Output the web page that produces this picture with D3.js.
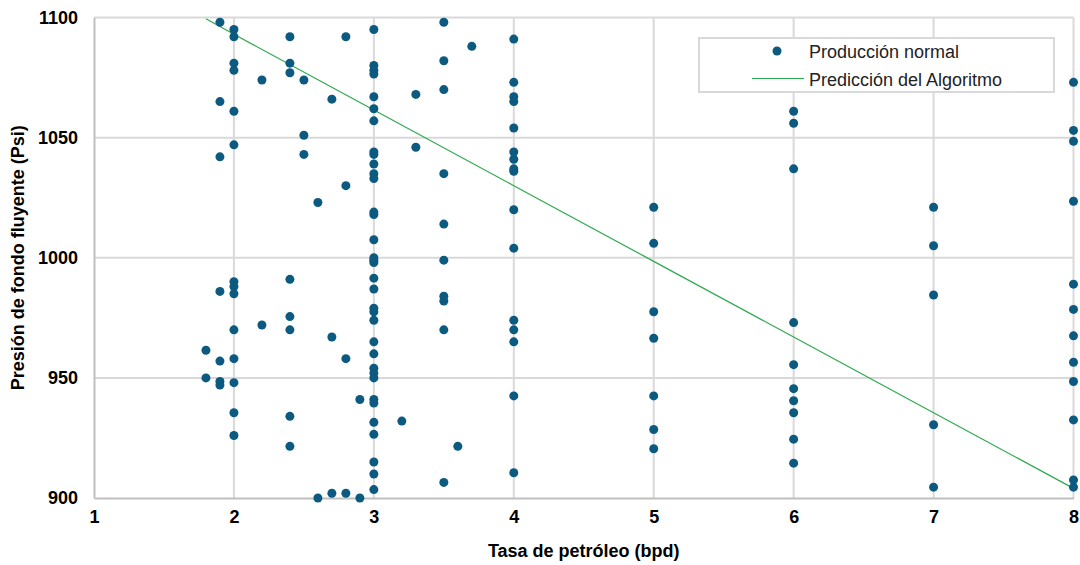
<!DOCTYPE html>
<html>
<head>
<meta charset="utf-8">
<script src="https://cdn.jsdelivr.net/npm/d3@7"></script>
<style>
  html, body { margin: 0; padding: 0; background: #ffffff; }
  svg { display: block; }
  text { font-family: "Liberation Sans", Arial, sans-serif; }
</style>
</head>
<body>
<svg id="chart" width="1080" height="565"></svg>
<script>
// Oil rate (bpd) for each well test
const rateBpd = [
  1.8, 1.8,
  1.9, 1.9, 1.9, 1.9, 1.9, 1.9, 1.9,
  2, 2, 2, 2, 2, 2, 2, 2, 2, 2, 2, 2, 2, 2,
  2.2, 2.2,
  2.4, 2.4, 2.4, 2.4, 2.4, 2.4, 2.4, 2.4,
  2.5, 2.5, 2.5,
  2.6, 2.6,
  2.7, 2.7, 2.7,
  2.8, 2.8, 2.8, 2.8,
  2.9, 2.9,
  3, 3, 3, 3, 3, 3, 3, 3, 3, 3, 3, 3, 3, 3, 3, 3, 3, 3, 3, 3, 3, 3,
  3, 3, 3, 3, 3, 3, 3, 3, 3, 3, 3, 3, 3,
  3.2,
  3.3, 3.3,
  3.5, 3.5, 3.5, 3.5, 3.5, 3.5, 3.5, 3.5, 3.5, 3.5,
  3.6,
  3.7,
  4, 4, 4, 4, 4, 4, 4, 4, 4, 4, 4, 4, 4, 4, 4, 4,
  5, 5, 5, 5, 5, 5, 5,
  6, 6, 6, 6, 6, 6, 6, 6, 6, 6,
  7, 7, 7, 7, 7,
  8, 8, 8, 8, 8, 8, 8, 8, 8, 8, 8, 8
];

// Flowing bottom-hole pressure (psi) for the same tests
const pressurePsi = [
  961.5, 950,
  1098, 1065, 1042, 986, 957, 948.5, 947,
  1095, 1092, 1081, 1078, 1061, 1047, 990, 988, 985, 970, 958, 948, 935.5, 926,
  1074, 972,
  1092, 1081, 1077, 991, 975.5, 970, 934, 921.5,
  1074, 1051, 1043,
  1023, 900,
  1066, 967, 902,
  1092, 1030, 958, 902,
  941, 900,
  1095, 1080, 1078, 1076.5, 1067, 1062, 1057, 1044, 1043, 1039, 1035, 1033, 1019, 1018, 1007.5, 1000, 999, 998, 991.5, 987, 979, 977.5,
  974, 965, 960, 954, 952, 950, 941, 939.5, 931.5, 926.5, 915, 910, 903.5,
  932,
  1068, 1046,
  1098, 1082, 1070, 1035, 1014, 999, 984, 982, 970, 906.5,
  921.5,
  1088,
  1091, 1073, 1067, 1065, 1054, 1044, 1041, 1037, 1036, 1020, 1004, 974, 970, 965, 942.5, 910.5,
  1021, 1006, 977.5, 966.5, 942.5, 928.5, 920.5,
  1061, 1056, 1037, 973, 955.5, 945.5, 940.5, 935.5, 924.5, 914.5,
  1021, 1005, 984.5, 930.5, 904.5,
  1073, 1053, 1048.5, 1023.5, 989, 978.5, 967.5, 956.5, 948.5, 932.5, 907.5, 904.5
];

// Algorithm prediction line
const predRate = [1.8, 2, 3, 4, 5, 6, 7, 8];
const predPsi = [1099.5, 1093, 1061.5, 1030, 998.5, 967, 935.5, 904];

// Axis ticks
const xTicks = [1, 2, 3, 4, 5, 6, 7, 8];
const yTicks = [900, 950, 1000, 1050, 1100];

const seriesNames = ["Producción normal", "Predicción del Algoritmo"];
const xTitle = "Tasa de petróleo (bpd)";
const yTitle = "Presión de fondo fluyente (Psi)";

const dotColor = "#0d5a80";
const lineColor = "#2daa4f";
const gridColor = "#d9d9d9";
const axisColor = "#bfbfbf";

const svg = d3.select("#chart");
const plot = { left: 94, right: 1073.5, top: 17.5, bottom: 498 };

const x = d3.scaleLinear().domain([1, 8]).range([plot.left, plot.right]);
const y = d3.scaleLinear().domain([900, 1100]).range([plot.bottom, plot.top]);

// Gridlines
const grid = svg.append("g");
grid.selectAll("line.vx")
  .data(xTicks.slice(1))
  .join("line")
  .attr("x1", d => x(d)).attr("x2", d => x(d))
  .attr("y1", plot.top).attr("y2", plot.bottom)
  .attr("stroke", gridColor).attr("stroke-width", 2);
grid.selectAll("line.hy")
  .data(yTicks.slice(1))
  .join("line")
  .attr("x1", plot.left).attr("x2", plot.right)
  .attr("y1", d => y(d)).attr("y2", d => y(d))
  .attr("stroke", gridColor).attr("stroke-width", 2);

// Axes (no tick marks, only labels)
const xAxis = d3.axisBottom(x).tickValues(xTicks).tickSize(0).tickPadding(12).tickFormat(d3.format("d"));
const yAxis = d3.axisLeft(y).tickValues(yTicks).tickSize(0).tickPadding(16).tickFormat(d3.format("d"));

const gx = svg.append("g").attr("transform", `translate(0,${plot.bottom})`).call(xAxis);
const gy = svg.append("g").attr("transform", `translate(${plot.left},0)`).call(yAxis);
[gx, gy].forEach(g => {
  g.select(".domain").attr("stroke", axisColor).attr("stroke-width", 2);
  g.selectAll("text")
    .attr("fill", "#000")
    .style("font-family", "'Liberation Sans', Arial, sans-serif")
    .style("font-size", "18px")
    .style("font-weight", "bold");
});

// Prediction line
svg.append("path")
  .datum(predRate.map((r, i) => [r, predPsi[i]]))
  .attr("fill", "none")
  .attr("stroke", lineColor)
  .attr("stroke-width", 1.2)
  .attr("d", d3.line().x(d => x(d[0])).y(d => y(d[1])));

// Well test points
svg.append("g")
  .selectAll("circle")
  .data(rateBpd.map((r, i) => [r, pressurePsi[i]]))
  .join("circle")
  .attr("cx", d => x(d[0]))
  .attr("cy", d => y(d[1]))
  .attr("r", 4.5)
  .attr("fill", dotColor);

// Axis titles
svg.append("text")
  .attr("x", (plot.left + plot.right) / 2)
  .attr("y", 557)
  .attr("text-anchor", "middle")
  .style("font-size", "18px")
  .style("font-weight", "bold")
  .text(xTitle);

svg.append("text")
  .attr("transform", `translate(24,${(plot.top + plot.bottom) / 2}) rotate(-90)`)
  .attr("text-anchor", "middle")
  .style("font-size", "18px")
  .style("font-weight", "bold")
  .text(yTitle);

// Legend
const legend = svg.append("g");
legend.append("rect")
  .attr("x", 699).attr("y", 38)
  .attr("width", 355).attr("height", 54)
  .attr("fill", "#fff")
  .attr("stroke", gridColor)
  .attr("stroke-width", 2);
legend.append("circle")
  .attr("cx", 777).attr("cy", 51).attr("r", 4.5)
  .attr("fill", dotColor);
legend.append("line")
  .attr("x1", 752).attr("x2", 804)
  .attr("y1", 78.5).attr("y2", 78.5)
  .attr("stroke", lineColor).attr("stroke-width", 1.2);
legend.selectAll("text.lg")
  .data(seriesNames)
  .join("text")
  .attr("x", 809)
  .attr("y", (d, i) => 57.5 + i * 28)
  .style("font-size", "18px")
  .attr("fill", "#222")
  .text(d => d);
</script>
</body>
</html>
